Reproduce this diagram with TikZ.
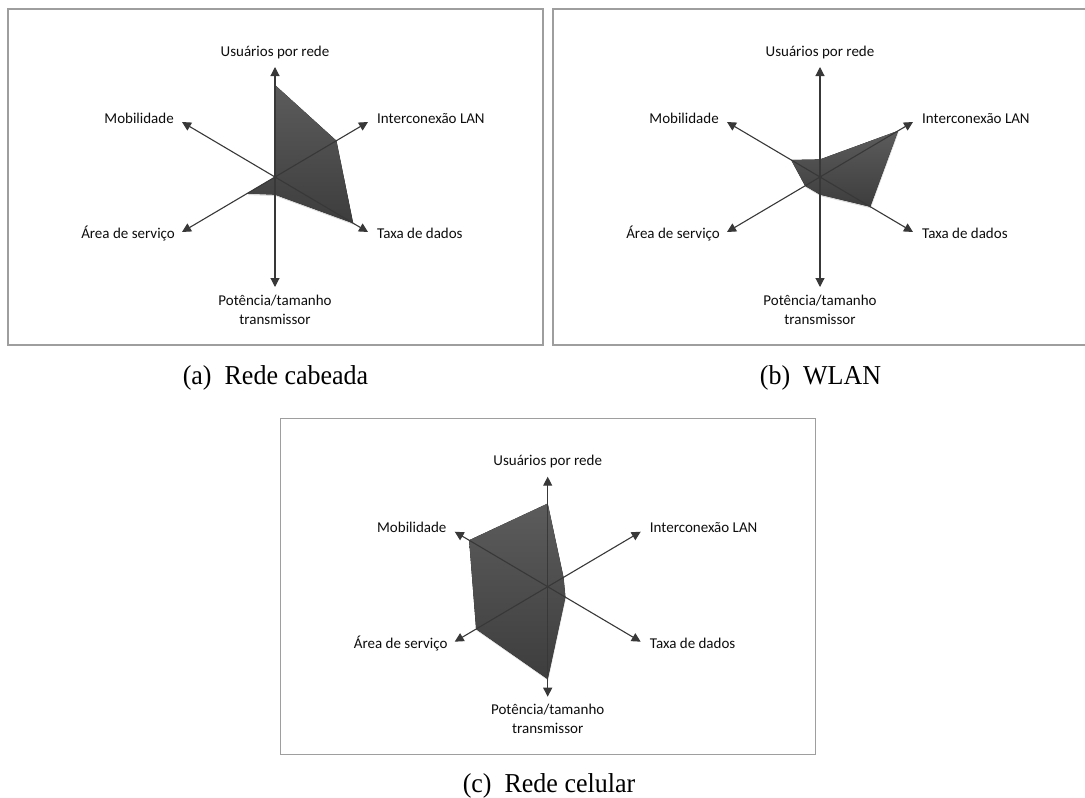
\documentclass[tikz,border=0pt]{standalone}
\usepackage{fontspec}
\setmainfont{Liberation Serif}
\newfontfamily\lblfont{Carlito}
\usetikzlibrary{arrows.meta,calc,shadows}
\pgfdeclarelayer{bg}
\pgfsetlayers{bg,main}

\tikzset{
  x=1pt, y=-1pt,
  frame/.style={draw=black!38, line width=1.3pt},
  axis/.style={draw=black!78, line width=1.1pt, -{Triangle[length=9pt,width=9pt]}},
  lbl/.style={font=\lblfont\fontsize{15}{19}\selectfont, text=black!95, inner sep=0pt},
  subcaption/.style={font=\fontsize{26}{30}\selectfont, inner sep=0pt, yscale=1.05},
  area/.style={top color=black!64, bottom color=black!76, draw=none,
    drop shadow={opacity=0.3, shadow xshift=0.5pt, shadow yshift=-1.5pt}},
  radar/.pic={
    \coordinate (-c) at (0,0);
    \coordinate (-tu) at (0,-110);
    \coordinate (-tp) at (0,110);
    \coordinate (-ti) at (93,-55);
    \coordinate (-tt) at (93,55);
    \coordinate (-ta) at (-93,55);
    \coordinate (-tm) at (-93,-55);
    \draw[frame] (-267,-168) rectangle (268,168);
    \draw[axis] (-c) -- (-tu);
    \draw[axis] (-c) -- (-tp);
    \draw[axis] (-c) -- (-ti);
    \draw[axis] (-c) -- (-tt);
    \draw[axis] (-c) -- (-ta);
    \draw[axis] (-c) -- (-tm);
    \node[lbl, anchor=base] (-lu) at (0,-121) {Usuários por rede};
    \node[lbl, anchor=base east] (-lm) at (-101,-54) {Mobilidade};
    \node[lbl, anchor=base west] (-li) at (102,-54) {Interconexão LAN};
    \node[lbl, anchor=base east] (-la) at (-100,61.5) {Área de serviço};
    \node[lbl, anchor=base west] (-lt) at (102,61.5) {Taxa de dados};
    \node[lbl, anchor=north, align=center] (-lp) at (0,117.5) {Potência/tamanho\\transmissor};
  }
}

% filled profile: values along the axes U, I, T, P, A, M (0..1 of axis length)
\newcommand\radararea[7]{%
  \begin{pgfonlayer}{bg}
    \fill[area] ($(#1-c)!#2!(#1-tu)$) -- ($(#1-c)!#3!(#1-ti)$)
      -- ($(#1-c)!#4!(#1-tt)$) -- ($(#1-c)!#5!(#1-tp)$)
      -- ($(#1-c)!#6!(#1-ta)$) -- ($(#1-c)!#7!(#1-tm)$) -- cycle;
  \end{pgfonlayer}}

\begin{document}
\begin{tikzpicture}
  \clip (0,0) rectangle (1085,798);

  \pic (a) at (275,177) {radar};
  \radararea{a}{0.836}{0.66}{0.84}{0.16}{0.30}{0}
  \node[subcaption] (capa) at (275.5,377.5) {(a)\ \ Rede cabeada};

  \pic (b) at (820,177) {radar};
  \radararea{b}{0.16}{0.84}{0.54}{0.16}{0.16}{0.31}
  \node[subcaption] (capb) at (820.5,377.5) {(b)\ \ WLAN};

  \pic (c) at (547.7,586.7) {radar};
  \radararea{c}{0.756}{0.17}{0.19}{0.84}{0.77}{0.845}
  \node[subcaption] (capc) at (549,786) {(c)\ \ Rede celular};
\end{tikzpicture}
\end{document}
